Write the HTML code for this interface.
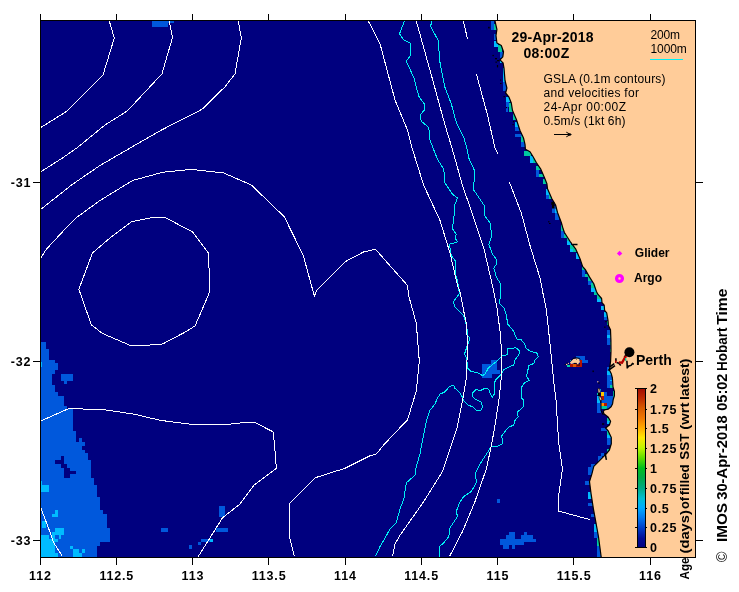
<!DOCTYPE html>
<html><head><meta charset="utf-8"><title>SST age map</title>
<style>
html,body{margin:0;padding:0;background:#fff;}
body{width:739px;height:592px;overflow:hidden;position:relative;font-family:"Liberation Sans",sans-serif;}
svg{position:absolute;left:0;top:0;display:block;will-change:transform;}
text{font-family:"Liberation Sans",sans-serif;fill:#000;}
.b{font-weight:bold;}
</style></head>
<body>
<svg width="739" height="592" viewBox="0 0 739 592">
<defs><clipPath id="pc"><rect x="41" y="21" width="654" height="536"/></clipPath>
<linearGradient id="cb" x1="0" y1="1" x2="0" y2="0"><stop offset="0" stop-color="#00007f"/><stop offset="0.06" stop-color="#000a96"/><stop offset="0.125" stop-color="#003cc8"/><stop offset="0.19" stop-color="#0078f0"/><stop offset="0.25" stop-color="#00aaff"/><stop offset="0.31" stop-color="#00bed2"/><stop offset="0.375" stop-color="#00aa82"/><stop offset="0.44" stop-color="#00aa46"/><stop offset="0.5" stop-color="#00be1e"/><stop offset="0.56" stop-color="#5adc00"/><stop offset="0.625" stop-color="#beF500"/><stop offset="0.69" stop-color="#ffe600"/><stop offset="0.75" stop-color="#ffaa00"/><stop offset="0.81" stop-color="#f07800"/><stop offset="0.875" stop-color="#d75a00"/><stop offset="0.94" stop-color="#be2800"/><stop offset="1" stop-color="#a00a00"/></linearGradient></defs>
<rect x="40" y="20" width="656" height="538" fill="#00007f"/>
<g clip-path="url(#pc)">
<g shape-rendering="crispEdges">
<rect x="151.8" y="21.0" width="15.7" height="5.8" fill="#0058dc"/><rect x="167.5" y="21.0" width="6.2" height="2.0" fill="#0058dc"/><rect x="41.0" y="341.8" width="4.8" height="7.5" fill="#0058dc"/><rect x="41.0" y="349.0" width="7.8" height="11.1" fill="#0058dc"/><rect x="41.0" y="359.8" width="14.0" height="3.5" fill="#0058dc"/><rect x="41.0" y="363.0" width="17.0" height="7.1" fill="#0058dc"/><rect x="41.0" y="369.8" width="14.0" height="4.0" fill="#0058dc"/><rect x="41.0" y="373.5" width="11.0" height="11.6" fill="#0058dc"/><rect x="41.0" y="384.8" width="14.0" height="7.8" fill="#0058dc"/><rect x="41.0" y="392.3" width="17.0" height="3.5" fill="#0058dc"/><rect x="41.0" y="395.5" width="22.8" height="10.8" fill="#0058dc"/><rect x="41.0" y="406.0" width="26.0" height="2.8" fill="#0058dc"/><rect x="41.0" y="408.5" width="32.0" height="22.8" fill="#0058dc"/><rect x="41.0" y="431.0" width="35.3" height="11.3" fill="#0058dc"/><rect x="41.0" y="442.0" width="44.0" height="4.3" fill="#0058dc"/><rect x="41.0" y="446.0" width="41.0" height="3.8" fill="#0058dc"/><rect x="41.0" y="449.5" width="44.0" height="3.8" fill="#0058dc"/><rect x="41.0" y="453.0" width="47.0" height="7.3" fill="#0058dc"/><rect x="41.0" y="460.0" width="49.8" height="18.1" fill="#0058dc"/><rect x="41.0" y="477.8" width="52.8" height="7.8" fill="#0058dc"/><rect x="41.0" y="485.3" width="56.0" height="11.5" fill="#0058dc"/><rect x="41.0" y="496.5" width="58.8" height="13.6" fill="#0058dc"/><rect x="41.0" y="509.8" width="61.9" height="4.2" fill="#0058dc"/><rect x="41.0" y="513.7" width="66.0" height="14.5" fill="#0058dc"/><rect x="41.0" y="527.9" width="69.0" height="14.4" fill="#0058dc"/><rect x="41.0" y="542.0" width="58.8" height="4.3" fill="#0058dc"/><rect x="41.0" y="546.0" width="55.8" height="11.3" fill="#0058dc"/><rect x="61.3" y="374.0" width="11.7" height="6.5" fill="#0058dc"/><rect x="64.0" y="380.5" width="3.0" height="3.8" fill="#0058dc"/><rect x="41.0" y="361.5" width="1.3" height="5.3" fill="#00bbff"/><rect x="55.0" y="459.5" width="8.8" height="4.5" fill="#00007f"/><rect x="61.3" y="455.8" width="3.0" height="3.7" fill="#00007f"/><rect x="61.3" y="464.0" width="5.7" height="3.8" fill="#00007f"/><rect x="64.3" y="467.8" width="5.7" height="10.0" fill="#00007f"/><rect x="70.0" y="471.0" width="5.8" height="3.0" fill="#00007f"/><rect x="41.0" y="485.3" width="7.8" height="6.2" fill="#00bbff"/><rect x="41.0" y="481.0" width="1.0" height="4.3" fill="#00bbff"/><rect x="79.0" y="438.0" width="3.0" height="4.0" fill="#0058dc"/><rect x="51.7" y="513.7" width="6.4" height="3.0" fill="#00bbff"/><rect x="54.7" y="509.8" width="3.4" height="3.9" fill="#00bbff"/><rect x="42.0" y="520.8" width="3.6" height="6.8" fill="#00bbff"/><rect x="55.2" y="527.9" width="9.0" height="7.1" fill="#00bbff"/><rect x="52.2" y="531.9" width="3.0" height="6.7" fill="#00bbff"/><rect x="58.5" y="535.0" width="2.8" height="3.6" fill="#00bbff"/><rect x="41.0" y="538.6" width="17.0" height="3.4" fill="#00bbff"/><rect x="41.0" y="535.0" width="8.2" height="3.6" fill="#00bbff"/><rect x="41.0" y="542.0" width="14.0" height="11.0" fill="#00bbff"/><rect x="41.0" y="553.0" width="17.0" height="4.0" fill="#00bbff"/><rect x="73.0" y="549.2" width="6.0" height="7.8" fill="#00bbff"/><rect x="79.0" y="552.7" width="3.0" height="4.3" fill="#00bbff"/><rect x="70.0" y="546.0" width="3.0" height="3.2" fill="#00bbff"/><rect x="82.1" y="549.2" width="3.0" height="3.5" fill="#00bbff"/><rect x="160.8" y="527.8" width="6.7" height="3.7" fill="#0058dc"/><rect x="219.3" y="505.8" width="5.7" height="10.7" fill="#0058dc"/><rect x="216.3" y="527.8" width="11.7" height="3.7" fill="#0058dc"/><rect x="201.3" y="538.5" width="11.7" height="3.0" fill="#0058dc"/><rect x="210.0" y="538.5" width="3.0" height="3.0" fill="#00bbff"/><rect x="198.0" y="541.5" width="3.3" height="3.8" fill="#0058dc"/><rect x="188.8" y="545.3" width="3.2" height="3.2" fill="#0058dc"/><rect x="482.0" y="363.5" width="9.5" height="14.0" fill="#0058dc"/><rect x="491.4" y="360.0" width="5.2" height="14.0" fill="#0058dc"/><rect x="496.6" y="370.0" width="3.4" height="4.0" fill="#0058dc"/><rect x="500.0" y="538.5" width="23.8" height="6.8" fill="#0058dc"/><rect x="506.3" y="534.5" width="8.7" height="4.0" fill="#0058dc"/><rect x="508.8" y="531.5" width="6.2" height="3.0" fill="#0058dc"/><rect x="521.3" y="534.5" width="11.2" height="7.0" fill="#0058dc"/><rect x="523.8" y="531.5" width="3.2" height="3.0" fill="#0058dc"/><rect x="532.5" y="538.5" width="3.0" height="3.0" fill="#0058dc"/><rect x="503.3" y="545.3" width="5.5" height="3.2" fill="#0058dc"/><rect x="512.0" y="545.3" width="3.0" height="3.2" fill="#0058dc"/><rect x="497.0" y="499.0" width="3.0" height="3.8" fill="#0058dc"/><rect x="491.3" y="21.0" width="3.1" height="8.9" fill="#0058dc"/><rect x="494.4" y="24.0" width="2.6" height="6.0" fill="#00c8a0"/><rect x="494.4" y="33.6" width="2.6" height="6.3" fill="#0058dc"/><rect x="494.4" y="41.0" width="3.6" height="6.4" fill="#00bbff"/><rect x="498.0" y="45.0" width="4.0" height="7.0" fill="#00c8a0"/><rect x="500.0" y="51.8" width="3.5" height="6.2" fill="#0058dc"/><rect x="500.0" y="60.5" width="3.0" height="2.5" fill="#00bbff"/><rect x="502.8" y="68.0" width="2.2" height="13.8" fill="#00bbff"/><rect x="503.0" y="81.8" width="4.0" height="8.7" fill="#0058dc"/><rect x="506.0" y="96.8" width="3.5" height="5.6" fill="#00bbff"/><rect x="506.0" y="102.4" width="3.0" height="4.4" fill="#0058dc"/><rect x="506.0" y="106.8" width="2.0" height="5.6" fill="#0058dc"/><rect x="509.0" y="103.0" width="4.0" height="9.4" fill="#00c8a0"/><rect x="512.5" y="113.0" width="3.5" height="6.9" fill="#00c8a0"/><rect x="515.0" y="121.8" width="4.0" height="5.6" fill="#00bbff"/><rect x="515.0" y="127.4" width="5.0" height="3.1" fill="#0058dc"/><rect x="515.0" y="134.3" width="7.0" height="3.1" fill="#0058dc"/><rect x="520.6" y="136.0" width="3.9" height="5.8" fill="#00c8a0"/><rect x="520.6" y="141.8" width="4.9" height="5.6" fill="#0058dc"/><rect x="523.8" y="151.0" width="7.2" height="4.5" fill="#00c8a0"/><rect x="530.0" y="156.0" width="3.0" height="6.5" fill="#00bbff"/><rect x="533.0" y="158.0" width="3.5" height="5.0" fill="#00c8a0"/><rect x="536.0" y="166.3" width="5.0" height="3.7" fill="#00c8a0"/><rect x="536.0" y="170.0" width="3.4" height="6.5" fill="#0058dc"/><rect x="539.4" y="173.8" width="4.6" height="2.7" fill="#00c8a0"/><rect x="543.0" y="178.8" width="4.0" height="5.0" fill="#00c8a0"/><rect x="546.0" y="189.4" width="4.0" height="5.6" fill="#00bbff"/><rect x="546.0" y="195.0" width="3.0" height="3.8" fill="#0058dc"/><rect x="549.0" y="195.0" width="3.0" height="3.8" fill="#00c8a0"/><rect x="551.9" y="206.3" width="4.1" height="6.2" fill="#0058dc"/><rect x="555.0" y="208.8" width="3.0" height="4.2" fill="#00bbff"/><rect x="555.0" y="213.0" width="4.0" height="7.0" fill="#0058dc"/><rect x="560.6" y="225.0" width="3.4" height="5.6" fill="#00c8a0"/><rect x="561.0" y="230.6" width="3.0" height="6.9" fill="#0058dc"/><rect x="564.0" y="233.8" width="4.0" height="3.7" fill="#00c8a0"/><rect x="567.0" y="237.5" width="4.0" height="3.8" fill="#00c8a0"/><rect x="567.0" y="241.3" width="4.0" height="3.7" fill="#00bbff"/><rect x="570.0" y="245.0" width="4.0" height="3.8" fill="#00c8a0"/><rect x="570.0" y="248.8" width="3.0" height="3.2" fill="#00bbff"/><rect x="573.0" y="245.6" width="4.0" height="6.4" fill="#00c8a0"/><rect x="576.0" y="252.5" width="4.0" height="6.3" fill="#00bbff"/><rect x="582.0" y="266.9" width="4.0" height="3.1" fill="#00c8a0"/><rect x="582.0" y="270.0" width="3.0" height="6.9" fill="#0058dc"/><rect x="585.0" y="273.8" width="4.0" height="3.2" fill="#00c8a0"/><rect x="588.0" y="277.0" width="4.0" height="3.6" fill="#00c8a0"/><rect x="588.0" y="280.6" width="5.0" height="3.9" fill="#0058dc"/><rect x="591.0" y="283.0" width="4.0" height="4.5" fill="#00c8a0"/><rect x="591.0" y="287.5" width="5.0" height="4.0" fill="#00bbff"/><rect x="594.4" y="291.5" width="3.6" height="3.5" fill="#00c8a0"/><rect x="597.1" y="295.0" width="3.9" height="3.5" fill="#00c8a0"/><rect x="597.1" y="298.5" width="4.9" height="3.3" fill="#00bbff"/><rect x="601.0" y="306.0" width="4.0" height="3.9" fill="#00bbff"/><rect x="604.2" y="312.1" width="3.3" height="4.5" fill="#00bbff"/><rect x="604.2" y="316.6" width="3.8" height="3.4" fill="#0058dc"/><rect x="607.0" y="320.9" width="2.0" height="3.8" fill="#00c8a0"/><rect x="607.0" y="329.7" width="4.5" height="15.1" fill="#0058dc"/><rect x="607.0" y="334.7" width="4.5" height="3.4" fill="#00bbff"/><rect x="610.3" y="342.0" width="1.5" height="2.8" fill="#00c8a0"/><rect x="610.3" y="348.9" width="1.5" height="3.4" fill="#00c8a0"/><rect x="610.3" y="361.7" width="1.5" height="2.1" fill="#00c8a0"/><rect x="610.0" y="344.8" width="1.5" height="4.2" fill="#0058dc"/><rect x="607.0" y="367.0" width="5.0" height="13.0" fill="#0058dc"/><rect x="607.0" y="370.6" width="4.0" height="4.4" fill="#00bbff"/><rect x="607.1" y="380.0" width="6.9" height="7.6" fill="#0058dc"/><rect x="609.9" y="384.9" width="4.1" height="2.7" fill="#00c8a0"/><rect x="609.9" y="380.0" width="4.1" height="1.2" fill="#00bbff"/><rect x="604.1" y="392.2" width="3.0" height="16.8" fill="#0058dc"/><rect x="607.1" y="395.5" width="7.9" height="13.5" fill="#0058dc"/><rect x="612.9" y="391.0" width="2.1" height="6.0" fill="#00c8a0"/><rect x="601.1" y="392.2" width="3.0" height="3.6" fill="#ffc800"/><rect x="601.1" y="395.8" width="3.0" height="4.0" fill="#b41400"/><rect x="601.1" y="399.8" width="3.0" height="2.7" fill="#0058dc"/><rect x="601.1" y="402.5" width="3.0" height="3.0" fill="#ff8c00"/><rect x="604.1" y="402.5" width="3.0" height="3.0" fill="#b41400"/><rect x="601.1" y="405.5" width="6.0" height="3.1" fill="#00c8a0"/><rect x="597.1" y="392.8" width="1.4" height="2.4" fill="#00c8a0"/><rect x="597.1" y="395.8" width="2.9" height="6.7" fill="#00bbff"/><rect x="597.1" y="402.5" width="4.0" height="10.3" fill="#0058dc"/><rect x="597.7" y="388.5" width="3.4" height="4.3" fill="#0058dc"/><rect x="600.2" y="388.5" width="0.9" height="2.0" fill="#00bbff"/><rect x="607.3" y="417.5" width="3.7" height="6.3" fill="#00bbff"/><rect x="607.3" y="417.5" width="3.7" height="3.0" fill="#00c8a0"/><rect x="607.3" y="431.3" width="4.7" height="3.2" fill="#00c8a0"/><rect x="597.5" y="459.5" width="3.0" height="3.0" fill="#00c8a0"/><rect x="601.3" y="428.0" width="5.7" height="2.6" fill="#0058dc"/><rect x="607.3" y="431.3" width="4.7" height="6.2" fill="#00bbff"/><rect x="607.3" y="437.5" width="4.7" height="7.5" fill="#0058dc"/><rect x="607.0" y="449.4" width="3.0" height="2.6" fill="#00c8a0"/><rect x="601.3" y="453.0" width="2.7" height="2.6" fill="#0058dc"/><rect x="597.5" y="456.3" width="4.5" height="5.0" fill="#0058dc"/><rect x="591.3" y="463.8" width="4.7" height="3.1" fill="#0058dc"/><rect x="588.0" y="466.9" width="4.5" height="7.8" fill="#0058dc"/><rect x="585.2" y="480.9" width="4.8" height="3.9" fill="#0058dc"/><rect x="588.3" y="491.8" width="3.7" height="6.9" fill="#00bbff"/><rect x="588.0" y="502.6" width="5.0" height="3.1" fill="#0058dc"/><rect x="591.0" y="514.0" width="4.0" height="2.6" fill="#0058dc"/><rect x="594.2" y="524.4" width="3.8" height="7.6" fill="#00bbff"/><rect x="594.0" y="532.0" width="5.0" height="6.4" fill="#0058dc"/><rect x="597.0" y="538.0" width="3.0" height="9.0" fill="#00c8a0"/><rect x="597.0" y="546.0" width="5.0" height="11.0" fill="#0058dc"/><rect x="607.3" y="431.3" width="4.7" height="3.2" fill="#00c8a0"/><rect x="576.1" y="356.1" width="9.0" height="3.6" fill="#0058dc"/><rect x="582.2" y="359.7" width="5.8" height="3.2" fill="#0058dc"/><rect x="570.0" y="364.1" width="11.9" height="2.7" fill="#b41400"/><rect x="573.2" y="364.1" width="2.6" height="2.7" fill="#dc5a00"/><rect x="580.0" y="360.0" width="1.9" height="4.1" fill="#b41400"/><rect x="567.1" y="364.6" width="2.9" height="2.2" fill="#00d2aa"/><rect x="570.0" y="360.0" width="1.0" height="1.0" fill="#00d2aa"/>
</g>
<polygon points="495.0,21.0 496.9,29.3 496.0,35.5 496.9,43.0 501.3,45.5 503.5,51.8 502.8,56.8 500.0,59.9 503.1,63.0 504.0,68.0 505.0,80.5 506.9,88.0 505.6,93.0 508.8,96.8 511.3,103.0 512.5,110.5 516.3,119.3 520.0,130.5 523.5,138.0 525.0,144.3 525.4,149.3 530.0,151.8 533.1,156.8 536.3,162.5 540.6,168.8 544.4,177.5 546.9,183.8 547.5,188.8 551.9,198.8 555.6,205.0 557.5,212.5 561.3,222.5 563.1,228.8 564.4,232.5 570.0,241.3 575.6,248.8 580.0,258.8 582.5,266.3 585.6,270.0 589.4,276.9 593.8,283.8 596.3,291.3 597.8,294.2 601.6,298.5 602.0,302.7 604.2,305.2 604.6,310.3 606.7,312.8 608.0,320.4 608.4,325.5 610.5,329.7 610.9,340.0 611.0,351.3 610.6,361.3 609.4,370.0 611.3,373.8 612.4,378.0 613.0,387.0 614.4,391.5 614.4,395.8 613.2,399.5 612.6,403.7 611.1,406.7 608.1,409.2 604.4,409.8 603.2,411.6 604.1,414.0 606.2,415.6 608.0,416.9 610.6,421.3 609.4,425.0 605.6,428.0 608.0,430.6 611.3,437.5 611.3,443.8 609.4,450.0 606.3,453.8 601.3,458.8 593.8,466.3 591.9,473.8 589.5,481.7 591.0,493.3 593.4,508.8 595.7,521.3 598.5,536.8 601.2,557.0 696.0,557.0 696.0,21.0" fill="#ffcc99"/>
<polyline points="495.0,21.0 496.9,29.3 496.0,35.5 496.9,43.0 501.3,45.5 503.5,51.8 502.8,56.8 500.0,59.9 503.1,63.0 504.0,68.0 505.0,80.5 506.9,88.0 505.6,93.0 508.8,96.8 511.3,103.0 512.5,110.5 516.3,119.3 520.0,130.5 523.5,138.0 525.0,144.3 525.4,149.3 530.0,151.8 533.1,156.8 536.3,162.5 540.6,168.8 544.4,177.5 546.9,183.8 547.5,188.8 551.9,198.8 555.6,205.0 557.5,212.5 561.3,222.5 563.1,228.8 564.4,232.5 570.0,241.3 575.6,248.8 580.0,258.8 582.5,266.3 585.6,270.0 589.4,276.9 593.8,283.8 596.3,291.3 597.8,294.2 601.6,298.5 602.0,302.7 604.2,305.2 604.6,310.3 606.7,312.8 608.0,320.4 608.4,325.5 610.5,329.7 610.9,340.0 611.0,351.3 610.6,361.3 609.4,370.0 611.3,373.8 612.4,378.0 613.0,387.0 614.4,391.5 614.4,395.8 613.2,399.5 612.6,403.7 611.1,406.7 608.1,409.2 604.4,409.8 603.2,411.6 604.1,414.0 606.2,415.6 608.0,416.9 610.6,421.3 609.4,425.0 605.6,428.0 608.0,430.6 611.3,437.5 611.3,443.8 609.4,450.0 606.3,453.8 601.3,458.8 593.8,466.3 591.9,473.8 589.5,481.7 591.0,493.3 593.4,508.8 595.7,521.3 598.5,536.8 601.2,557.0" fill="none" stroke="#000" stroke-width="1.2" stroke-linejoin="round"/>
<polygon points="570,362.4 571.9,360.5 573.4,359 576.1,358.5 576.8,358 579.2,359.3 580,362.2 578.8,362.9 578.3,364.6 577,364.6 576.6,362.9 574.1,362.9 571.7,363.9 570.2,363.2" fill="#ffcc99"/>
<path d="M571.3,360.4 L573,358.4 L576,357.8 L579.5,358.4 L580.2,359.6 M574,363.4 L576.6,363.4 M577,365 L580,365 M576.3,359 L577,359.6" stroke="#000" stroke-width="0.9" fill="none"/>
<rect x="565.8" y="363.9" width="1.5" height="1.2" fill="#ffcc99"/><rect x="567.8" y="362.9" width="1.1" height="1.1" fill="#ffcc99"/><rect x="564.8" y="364" width="1" height="1" fill="#000"/><rect x="566.6" y="362.6" width="1" height="1" fill="#000"/>
<polygon points="597.9,388.6 599.6,388.7 600.4,392.6 598.2,392.8" fill="#ffcc99" stroke="#000" stroke-width="0.6"/>
<polygon points="598.8,396.5 601,397 602,400 599.8,400.4" fill="#ffcc99" stroke="#000" stroke-width="0.6"/>
<rect x="598" y="393" width="2.3" height="3" fill="#000"/><path d="M601,400.5 L601,410.4 L603.2,415" stroke="#000" stroke-width="1" fill="none"/>
<rect x="597.2" y="381.2" width="1.2" height="1.2" fill="#ffcc99"/><rect x="598.3" y="382.3" width="1.2" height="1.5" fill="#000"/>
<rect x="488.1" y="26.8" width="1.6" height="1.6" fill="#000"/><rect x="492.5" y="54.9" width="1.3" height="1.3" fill="#000"/><rect x="495" y="58" width="2" height="1.3" fill="#000"/><rect x="497" y="60" width="2.4" height="1.3" fill="#000"/><rect x="495.5" y="61.5" width="1.3" height="1.3" fill="#000"/><rect x="496.9" y="65" width="1.2" height="2.4" fill="#000"/><rect x="500" y="79.5" width="1.2" height="1.2" fill="#000"/><rect x="500" y="83" width="1.5" height="1" fill="#000"/><rect x="503.5" y="96" width="1.3" height="1.3" fill="#000"/><rect x="506" y="107" width="1.2" height="1.2" fill="#000"/><rect x="513" y="121" width="1.2" height="1.2" fill="#000"/><rect x="512.5" y="124" width="1.2" height="1.2" fill="#000"/><rect x="551.3" y="201.9" width="3" height="3" fill="#000"/><rect x="552" y="205" width="2.5" height="3.5" fill="#000"/><rect x="548" y="221.3" width="1.5" height="1" fill="#000"/><rect x="549" y="223" width="1.6" height="1" fill="#000"/><rect x="592.5" y="370.5" width="1.3" height="1.6" fill="#000"/><rect x="604.2" y="326.5" width="1.3" height="1.3" fill="#000"/><rect x="605.4" y="321" width="1.2" height="1.2" fill="#000"/><rect x="602" y="423.3" width="2.2" height="1.4" fill="#000"/>
<path d="M573,244.6 L577.5,244.6 M605.2,453.2 L605.8,457 L606.4,459.8" stroke="#000" stroke-width="1.5" fill="none"/>
<path d="M608.4,370.4 L615,365.6 M609.6,367 L614.3,363.6 M615.9,358.2 L615.9,361.3 M616.6,362.6 L618.8,363.3 L620.8,365.6 M624.2,357 L627.5,353.5 M626.9,360.8 L627.3,368.5 M627.3,367.8 L628.8,366 L631,365.4 L632.5,363.6 L633.8,364.2" stroke="#000" stroke-width="1.6" fill="none"/>
<path d="M615,361.8 L616.6,361.8 M618.8,362.4 L622,362.8 L625,357.4 L626.2,356" stroke="#b40000" stroke-width="2.4" fill="none"/>
<rect x="625" y="358" width="1.3" height="2.8" fill="#00c8a0"/>
<g fill="none" stroke="#00f0f5" stroke-width="1" shape-rendering="crispEdges">
<polyline points="404.5,21.0 399.5,33.8 403.8,40.0 410.0,43.0 410.0,56.3 406.3,61.3 413.8,77.5 418.8,96.3 425.0,105.0 424.5,110.0 420.0,115.0 421.3,121.3 428.8,127.5 430.0,140.0 433.0,148.0 437.5,159.3 443.8,169.3 445.0,183.0 452.5,194.3 457.5,198.0 454.5,205.5 453.8,220.5 452.0,228.0 456.3,234.3 455.0,238.0 457.5,241.8 449.5,244.3 451.3,255.5 455.0,260.5 455.0,273.0 457.5,280.5 459.4,293.5 453.4,301.7 454.9,306.9 463.8,315.8 466.8,326.2 467.5,335.2 469.8,338.1 469.0,341.1 466.8,347.1 464.6,353.8 466.8,359.0 467.5,367.9 471.3,371.6 476.5,372.4 482.4,375.4 484.7,374.6 488.4,367.9 495.8,362.0 502.5,355.7 507.0,354.8 507.7,348.6 515.9,347.8 519.6,350.8 518.9,354.5 515.2,359.7 513.7,364.9 504.0,369.4 500.3,375.4 495.9,379.5 494.0,383.9 494.0,394.4 492.5,397.3 490.0,392.9 488.5,389.1 484.8,388.4 480.3,390.6 475.8,389.4 472.8,392.9 472.8,396.6 475.8,399.6 481.0,401.8 482.5,407.0 481.0,410.4 476.3,410.4 472.8,407.0 467.6,404.8 463.9,401.0 461.7,395.8 459.4,392.1 455.0,388.4 453.9,385.4 449.8,386.2 444.6,392.1 440.1,394.1 437.9,397.3 434.9,404.0 429.7,410.7 426.7,419.7 424.5,430.1 421.8,444.0 420.0,454.0 416.3,466.5 415.0,475.3 406.3,482.8 403.8,499.0 400.0,509.0 396.3,522.8 390.0,529.0 383.8,540.3 380.0,546.5 375.5,556.5"/>
<polyline points="432.0,21.0 430.5,26.3 438.0,40.0 440.0,62.5 445.0,87.5 451.3,103.8 456.3,122.5 463.8,137.5 466.8,148.0 468.8,158.0 475.0,171.8 473.3,189.3 480.0,199.3 485.0,206.8 484.5,215.5 490.0,223.0 491.8,235.5 488.8,244.3 492.5,254.3 496.3,259.3 496.3,264.3 493.8,268.0 496.3,276.8 500.0,283.0 500.3,292.0 501.0,296.5 499.2,300.9 500.3,304.7 504.0,307.6 506.2,314.3 507.7,324.0 513.7,331.4 516.7,338.9 521.1,339.6 524.8,344.1 526.3,348.6 530.8,351.5 536.8,353.0 538.2,356.8 535.3,359.7 533.8,363.4 528.6,365.7 527.8,370.9 526.3,376.1 529.4,380.2 524.2,383.2 521.2,387.7 521.2,397.3 523.5,400.3 523.5,406.3 517.5,412.2 518.2,416.7 514.5,421.1 513.8,425.6 509.3,426.4 505.6,430.8 501.6,436.0 502.6,440.5 501.9,444.2 497.4,446.4 491.2,446.7 488.5,450.9 480.0,464.0 475.5,472.8 476.3,482.8 471.3,491.5 463.8,496.5 459.5,502.8 456.3,511.5 457.5,516.5 450.0,527.8 448.8,536.5 443.8,542.8 439.5,546.5 440.0,556.5"/>
</g>
<g fill="none" stroke="#fff" stroke-width="1" shape-rendering="crispEdges">
<polyline points="109.3,21.0 114.3,38.0 103.0,75.0 67.5,110.8 40.8,127.5"/>
<polyline points="169.3,21.0 172.5,37.5 162.0,73.8 127.5,110.8 105.0,125.0 77.5,147.5 62.5,158.0 40.8,171.8"/>
<polyline points="238.3,21.0 241.3,38.0 235.0,73.8 225.0,86.8 202.0,109.3 185.0,118.0 162.5,129.5 131.0,147.5 100.0,165.5 72.5,184.3 40.8,209.3"/>
<polyline points="40.8,258.0 46.3,249.3 62.5,231.8 77.5,216.8 100.0,200.5 132.5,180.5 162.5,172.3 185.0,170.0 195.0,169.8 223.8,173.0 251.3,185.0 284.3,216.8 303.3,255.5 314.3,296.0 317.5,289.3 345.0,261.8 363.8,251.8 370.0,250.5 375.5,249.3 407.5,285.5 408.8,296.0 416.3,323.5 419.3,361.0 416.3,391.0 407.5,419.8 385.0,443.5 376.3,454.0 370.0,455.8 345.0,468.3 315.0,477.8 302.5,490.3 289.3,504.0 290.0,539.0 294.3,556.5"/>
<polyline points="184.8,228.0 165.0,217.3 153.8,217.3 131.3,221.8 110.0,238.0 92.5,253.0 78.8,289.3 81.3,296.0 91.3,324.8 102.5,333.5 130.0,345.3 146.3,345.3 162.5,344.0 184.8,332.3 195.0,326.0 208.0,296.0 210.0,289.3 208.3,253.0 192.5,231.8 184.8,228.0"/>
<polyline points="40.8,421.0 68.8,408.5 105.0,409.8 135.0,414.3 160.0,420.3 184.8,423.5 188.8,424.0 231.3,424.0 246.3,422.3 254.5,422.3 273.0,431.8 274.5,444.0 276.3,468.3 253.8,485.3 240.0,504.0 222.5,517.8 198.3,556.5"/>
<polyline points="40.8,507.8 48.8,529.0 53.8,542.8 62.5,556.5"/>
<polyline points="368.0,21.0 370.0,23.8 380.0,43.8 395.0,100.0 407.5,130.0 412.0,148.0 423.8,185.5 440.0,220.5 450.0,253.0 457.5,285.5 460.1,292.0 463.8,311.4 466.5,324.7 467.5,344.1 466.8,366.4 466.9,375.0 463.2,397.3 457.2,427.1 449.8,449.4 442.5,471.5 423.8,501.5 400.0,535.3 395.0,544.0 392.5,556.5"/>
<polyline points="416.3,21.0 431.3,75.0 445.0,125.0 452.0,148.0 462.5,185.5 473.8,218.0 483.8,248.0 491.3,280.5 493.9,292.0 497.3,309.9 500.3,333.7 501.8,356.0 501.6,375.0 498.9,400.3 495.2,424.1 491.5,445.0 486.3,469.0 475.0,501.5 462.5,531.5 449.5,556.5"/>
<polyline points="463.3,21.0 467.5,38.8"/>
<polyline points="476.3,73.8 487.5,115.0 495.0,148.0 497.8,153.6"/>
<polyline points="509.3,181.8 521.3,213.0 530.0,245.5 540.0,278.0 542.7,292.0 546.4,309.9 549.4,338.1 553.8,382.3 556.0,400.0 558.8,444.0 562.5,469.0 558.8,494.0 558.3,511.0 590.3,519.7"/>
</g>
</g>
<circle cx="629.4" cy="352.3" r="5" fill="#000"/>
<polygon points="619.6,250.7 622.3,253.4 619.6,256.1 616.9,253.4" fill="#ff00ff"/>
<circle cx="619.5" cy="278.5" r="2.9" fill="#ffcc99" stroke="#ff00ff" stroke-width="3.3"/>
<rect x="650" y="59" width="33" height="1" fill="#00f0f5" shape-rendering="crispEdges"/>
<path d="M554,134.5 H571.5 M566.3,132.2 L570.5,134.5 L566.3,136.8" stroke="#000" stroke-width="1" fill="none"/>
<rect x="568.3" y="133.5" width="2.7" height="2" fill="#000"/>
<g shape-rendering="crispEdges" fill="#000">
<rect x="40" y="20" width="656" height="1"/><rect x="40" y="557" width="656" height="1"/><rect x="40" y="20" width="1" height="538"/><rect x="695" y="20" width="1" height="538"/>
<rect x="40" y="14" width="1" height="6"/><rect x="40" y="558" width="1" height="7"/><rect x="116" y="14" width="1" height="6"/><rect x="116" y="558" width="1" height="7"/><rect x="192" y="14" width="1" height="6"/><rect x="192" y="558" width="1" height="7"/><rect x="268" y="14" width="1" height="6"/><rect x="268" y="558" width="1" height="7"/><rect x="345" y="14" width="1" height="6"/><rect x="345" y="558" width="1" height="7"/><rect x="421" y="14" width="1" height="6"/><rect x="421" y="558" width="1" height="7"/><rect x="497" y="14" width="1" height="6"/><rect x="497" y="558" width="1" height="7"/><rect x="573" y="14" width="1" height="6"/><rect x="573" y="558" width="1" height="7"/><rect x="650" y="14" width="1" height="6"/><rect x="650" y="558" width="1" height="7"/><rect x="33" y="182" width="7" height="1"/><rect x="696" y="182" width="7" height="1"/><rect x="33" y="361" width="7" height="1"/><rect x="696" y="361" width="7" height="1"/><rect x="33" y="540" width="7" height="1"/><rect x="696" y="540" width="7" height="1"/>
</g>
<rect x="637" y="388" width="9" height="160" fill="url(#cb)"/>
<g shape-rendering="crispEdges" fill="#000">
<rect x="637" y="388" width="1" height="160"/><rect x="645" y="388" width="1" height="160"/><rect x="637" y="388" width="9" height="1"/><rect x="637" y="547" width="9" height="1"/>
<rect x="635" y="388" width="2" height="1"/><rect x="646" y="388" width="1" height="1"/><rect x="635" y="409" width="2" height="1"/><rect x="646" y="409" width="1" height="1"/><rect x="635" y="428" width="2" height="1"/><rect x="646" y="428" width="1" height="1"/><rect x="635" y="448" width="2" height="1"/><rect x="646" y="448" width="1" height="1"/><rect x="635" y="468" width="2" height="1"/><rect x="646" y="468" width="1" height="1"/><rect x="635" y="488" width="2" height="1"/><rect x="646" y="488" width="1" height="1"/><rect x="635" y="508" width="2" height="1"/><rect x="646" y="508" width="1" height="1"/><rect x="635" y="527" width="2" height="1"/><rect x="646" y="527" width="1" height="1"/><rect x="635" y="547" width="2" height="1"/><rect x="646" y="547" width="1" height="1"/>
</g>
<text class="b" x="650" y="393.0" font-size="12.5" letter-spacing="0.7">2</text><text class="b" x="650" y="414.0" font-size="12.5" letter-spacing="0.7">1.75</text><text class="b" x="650" y="433.0" font-size="12.5" letter-spacing="0.7">1.5</text><text class="b" x="650" y="453.0" font-size="12.5" letter-spacing="0.7">1.25</text><text class="b" x="650" y="473.0" font-size="12.5" letter-spacing="0.7">1</text><text class="b" x="650" y="493.0" font-size="12.5" letter-spacing="0.7">0.75</text><text class="b" x="650" y="513.0" font-size="12.5" letter-spacing="0.7">0.5</text><text class="b" x="650" y="532.0" font-size="12.5" letter-spacing="0.7">0.25</text><text class="b" x="650" y="552.0" font-size="12.5" letter-spacing="0.7">0</text>
<text class="b" x="40.4" y="580" font-size="12.5" letter-spacing="0.8" text-anchor="middle">112</text><text class="b" x="116.7" y="580" font-size="12.5" letter-spacing="0.8" text-anchor="middle">112.5</text><text class="b" x="192.9" y="580" font-size="12.5" letter-spacing="0.8" text-anchor="middle">113</text><text class="b" x="269.1" y="580" font-size="12.5" letter-spacing="0.8" text-anchor="middle">113.5</text><text class="b" x="345.4" y="580" font-size="12.5" letter-spacing="0.8" text-anchor="middle">114</text><text class="b" x="421.6" y="580" font-size="12.5" letter-spacing="0.8" text-anchor="middle">114.5</text><text class="b" x="497.9" y="580" font-size="12.5" letter-spacing="0.8" text-anchor="middle">115</text><text class="b" x="574.1" y="580" font-size="12.5" letter-spacing="0.8" text-anchor="middle">115.5</text><text class="b" x="650.4" y="580" font-size="12.5" letter-spacing="0.8" text-anchor="middle">116</text>
<text class="b" x="31.2" y="186.5" font-size="12.5" letter-spacing="0.8" text-anchor="end">-31</text><text class="b" x="31.2" y="365.5" font-size="12.5" letter-spacing="0.8" text-anchor="end">-32</text><text class="b" x="31.2" y="544.5" font-size="12.5" letter-spacing="0.8" text-anchor="end">-33</text>
<text class="b" x="511.5" y="42" font-size="14" textLength="82" lengthAdjust="spacing">29-Apr-2018</text>
<text class="b" x="523.5" y="57.5" font-size="14" textLength="45.7" lengthAdjust="spacing">08:00Z</text>
<text x="543.5" y="82.5" font-size="12" textLength="122" lengthAdjust="spacing">GSLA (0.1m contours)</text>
<text x="543.5" y="96.5" font-size="12" textLength="95.5" lengthAdjust="spacing">and velocities for</text>
<text x="543.5" y="110.5" font-size="12" textLength="82.6" lengthAdjust="spacing">24-Apr 00:00Z</text>
<text x="543.5" y="124.5" font-size="12" textLength="82" lengthAdjust="spacing">0.5m/s (1kt 6h)</text>
<text x="650.5" y="39" font-size="12" textLength="29.5" lengthAdjust="spacing">200m</text>
<text x="650.5" y="53" font-size="12" textLength="36.3" lengthAdjust="spacing">1000m</text>
<text class="b" x="634.8" y="257" font-size="12">Glider</text>
<text class="b" x="634" y="282" font-size="12">Argo</text>
<text class="b" x="636" y="364.8" font-size="14">Perth</text>
<text class="b" font-size="12" transform="translate(688.8,579.4) rotate(-90)" textLength="21.8" lengthAdjust="spacingAndGlyphs">Age</text>
<text class="b" font-size="12" transform="translate(688.8,553.5) rotate(-90)" textLength="43.4" lengthAdjust="spacingAndGlyphs">(days)</text>
<text class="b" font-size="12" transform="translate(688.8,509.1) rotate(-90)" textLength="12.0" lengthAdjust="spacingAndGlyphs">of</text>
<text class="b" font-size="12" transform="translate(688.8,495.3) rotate(-90)" textLength="30.9" lengthAdjust="spacingAndGlyphs">filled</text>
<text class="b" font-size="12" transform="translate(688.8,459.8) rotate(-90)" textLength="26.3" lengthAdjust="spacingAndGlyphs">SST</text>
<text class="b" font-size="12" transform="translate(688.8,429.7) rotate(-90)" textLength="27.1" lengthAdjust="spacingAndGlyphs">(wrt</text>
<text class="b" font-size="12" transform="translate(688.8,400.1) rotate(-90)" textLength="41.6" lengthAdjust="spacingAndGlyphs">latest)</text>
<text class="" font-size="14" transform="translate(727.3,562.3) rotate(-90)" textLength="10.8" lengthAdjust="spacingAndGlyphs">©</text>
<text class="b" font-size="14" transform="translate(727.3,542.1) rotate(-90)" textLength="39.2" lengthAdjust="spacingAndGlyphs">IMOS</text>
<text class="b" font-size="14" transform="translate(727.3,499.8) rotate(-90)" textLength="84.4" lengthAdjust="spacingAndGlyphs">30-Apr-2018</text>
<text class="b" font-size="14" transform="translate(727.3,410.7) rotate(-90)" textLength="37.0" lengthAdjust="spacingAndGlyphs">05:02</text>
<text class="b" font-size="14" transform="translate(727.3,371.0) rotate(-90)" textLength="43.4" lengthAdjust="spacingAndGlyphs">Hobart</text>
<text class="b" font-size="14" transform="translate(727.3,324.8) rotate(-90)" textLength="36.2" lengthAdjust="spacingAndGlyphs">Time</text>
</svg>
</body></html>
